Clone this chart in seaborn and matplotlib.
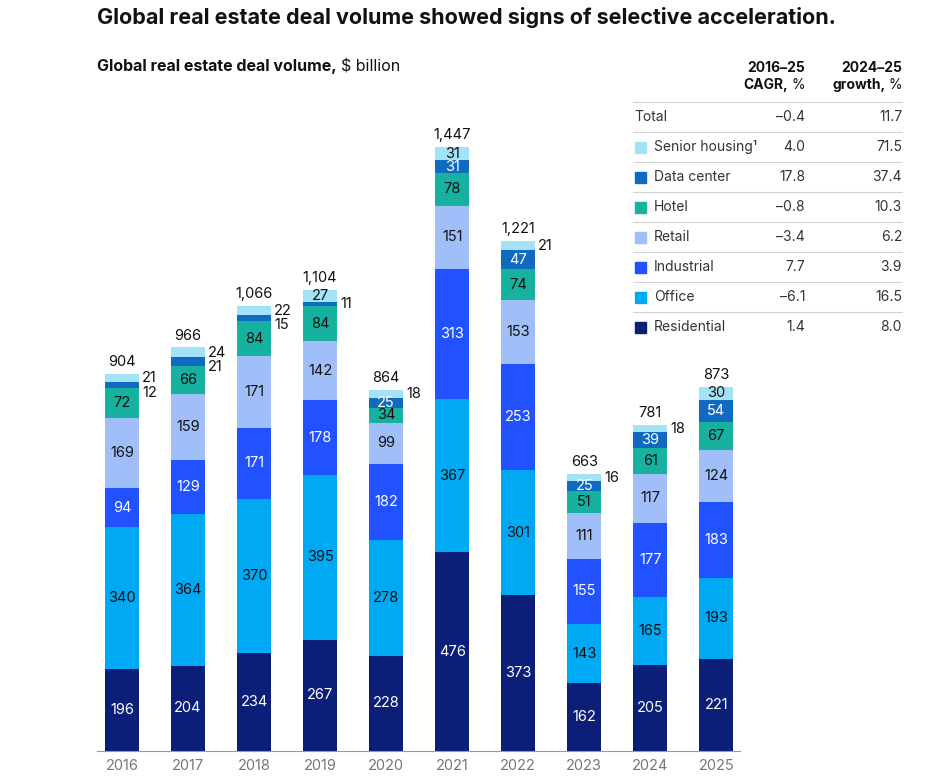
import matplotlib.pyplot as plt
import seaborn as sns
import pandas as pd
import numpy as np

years = ['2016', '2017', '2018', '2019', '2020', '2021', '2022', '2023', '2024', '2025']
segments = ['Residential', 'Office', 'Industrial', 'Retail', 'Hotel', 'Data center', 'Senior housing']
residential = [196, 204, 234, 267, 228, 476, 373, 162, 205, 221]
office = [340, 364, 370, 395, 278, 367, 301, 143, 165, 193]
industrial = [94, 129, 171, 178, 182, 313, 253, 155, 177, 183]
retail = [169, 159, 171, 142, 99, 151, 153, 111, 117, 124]
hotel = [72, 66, 84, 84, 34, 78, 74, 51, 61, 67]
data_center = [12, 21, 15, 11, 25, 31, 47, 25, 39, 54]
senior_housing = [21, 24, 22, 27, 18, 31, 21, 16, 18, 30]
totals = [904, 966, 1066, 1104, 864, 1447, 1221, 663, 781, 873]

table_rows = ['Total', 'Senior housing¹', 'Data center', 'Hotel', 'Retail', 'Industrial', 'Office', 'Residential']
cagr = ['–0.4', '4.0', '17.8', '–0.8', '–3.4', '7.7', '–6.1', '1.4']
growth = ['11.7', '71.5', '37.4', '10.3', '6.2', '3.9', '16.5', '8.0']

colors = {
    'Residential': '#0B1F78',
    'Office': '#00A9F4',
    'Industrial': '#2251FF',
    'Retail': '#A0BFF9',
    'Hotel': '#17B1A0',
    'Data center': '#106BC0',
    'Senior housing': '#A3E3F8',
}
label_colors = {
    'Residential': 'white', 'Office': '#111111', 'Industrial': 'white',
    'Retail': '#111111', 'Hotel': '#111111', 'Data center': 'white',
    'Senior housing': '#111111',
}

sns.set_theme(style='white')
plt.rcParams['font.family'] = ['Inter', 'DejaVu Sans']

values = {
    'Residential': residential, 'Office': office, 'Industrial': industrial,
    'Retail': retail, 'Hotel': hotel, 'Data center': data_center,
    'Senior housing': senior_housing,
}
rows = []
for seg in segments:
    for yr, v in zip(years, values[seg]):
        rows.append({'year': yr, 'segment': seg, 'value': v})
df = pd.DataFrame(rows)

W, H = 934, 782
fig = plt.figure(figsize=(W / 100, H / 100), dpi=100)
ax = fig.add_axes([97 / W, 1 - 751 / H, (740 - 97) / W, (751 - 125) / H])

bottom = np.zeros(len(years))
bar_w = 0.52
for seg in segments:
    sub = df[df['segment'] == seg]
    sns.barplot(data=sub, x='year', y='value', order=years, color=colors[seg],
                width=bar_w, bottom=bottom, ax=ax, saturation=1, linewidth=0,
                errorbar=None)
    vals = np.array(values[seg])
    for i, v in enumerate(vals):
        if v >= 25:
            ax.text(i, bottom[i] + v / 2, str(v), ha='center', va='center',
                    fontsize=10.5, color=label_colors[seg])
    bottom = bottom + vals

# small labels outside bars
for i in range(len(years)):
    top = totals[i]
    sh = senior_housing[i]
    dc = data_center[i]
    sh_y = top - sh / 2
    if sh < 25:
        ax.text(i + bar_w / 2 + 0.04, sh_y, str(sh), ha='left', va='center',
                fontsize=10.5, color='#111111')
    if dc < 25:
        dc_y = top - sh - dc / 2
        if sh < 25:
            dc_y = min(dc_y, sh_y - 35)
        ax.text(i + bar_w / 2 + 0.04, dc_y, str(dc), ha='left', va='center',
                fontsize=10.5, color='#111111')
    ax.text(i, top + 12, f'{top:,}', ha='center', va='bottom', fontsize=10.5,
            color='#111111')

ax.set_xlim(-0.38, 9.36)
ax.set_ylim(0, 1500)
ax.set_xlabel('')
ax.set_ylabel('')
ax.set_yticks([])
sns.despine(ax=ax, left=True)
ax.spines['bottom'].set_color('#999999')
ax.spines['bottom'].set_linewidth(0.8)
ax.tick_params(axis='x', length=0, pad=6, labelsize=10.5, labelcolor='#777777')

# titles
fig.text(97 / W, 1 - 18 / H, 'Global real estate deal volume showed signs of selective acceleration.',
         fontsize=15.5, fontweight='bold', color='#111111', va='center', ha='left')
renderer = fig.canvas.get_renderer()
t = fig.text(97 / W, 1 - 67 / H, 'Global real estate deal volume,', fontsize=11.5,
             fontweight='bold', color='#111111', va='center', ha='left')
bb = t.get_window_extent(renderer)
fig.text(bb.x1 / W + 4 / W, 1 - 67 / H, '$ billion', fontsize=11.5, color='#111111',
         va='center', ha='left')

# table
x_cagr, x_growth = 805, 902
x_left = 633


def header(xr, y, bold, regular):
    r = fig.text(xr / W, 1 - y / H, regular, fontsize=10, color='#111111',
                 ha='right', va='center')
    rb = r.get_window_extent(renderer)
    fig.text((rb.x0 - 3) / W, 1 - y / H, bold, fontsize=10, fontweight='bold',
             color='#111111', ha='right', va='center')


fig.text(x_cagr / W, 1 - 68 / H, '2016–25', fontsize=10, fontweight='bold',
         color='#111111', ha='right', va='center')
header(x_cagr, 85, 'CAGR,', '%')
fig.text(x_growth / W, 1 - 68 / H, '2024–25', fontsize=10, fontweight='bold',
         color='#111111', ha='right', va='center')
header(x_growth, 85, 'growth,', '%')

row_y0, row_dy = 117, 30
for k, name in enumerate(table_rows):
    y = row_y0 + k * row_dy
    line_y = y - 15
    fig.add_artist(plt.Line2D([x_left / W, x_growth / W], [1 - line_y / H, 1 - line_y / H],
                              color='#d4d4d4', linewidth=0.8))
    if k == 0:
        fig.text(634 / W, 1 - y / H, name, fontsize=10, color='#333333', va='center')
    else:
        seg = segments[len(segments) - k]
        fig.add_artist(plt.Rectangle((635 / W, 1 - (y + 5.5) / H), 11 / W, 11 / H,
                                     color=colors[seg]))
        fig.text(654 / W, 1 - y / H, name, fontsize=10, color='#333333', va='center')
    fig.text(x_cagr / W, 1 - y / H, cagr[k], fontsize=10, color='#333333',
             ha='right', va='center')
    fig.text(x_growth / W, 1 - y / H, growth[k], fontsize=10, color='#333333',
             ha='right', va='center')

fig.savefig('out.png', dpi=100)
